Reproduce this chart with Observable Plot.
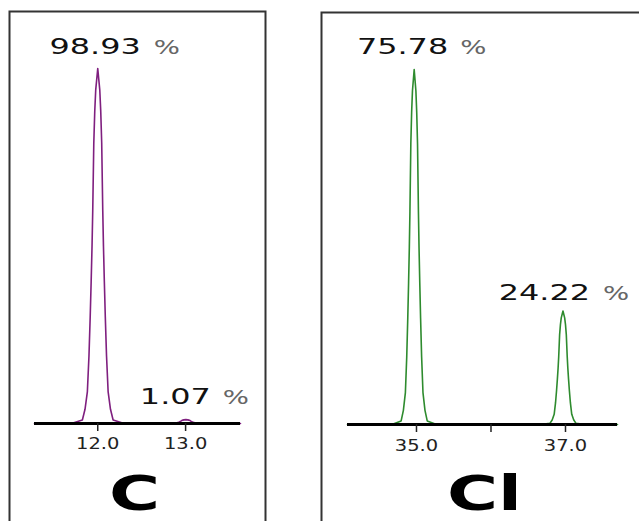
<!DOCTYPE html>
<html><head><meta charset="utf-8">
<script src="https://cdn.jsdelivr.net/npm/d3@7"></script>
<script src="https://cdn.jsdelivr.net/npm/@observablehq/plot@0.6"></script>
<style>
html,body{margin:0;padding:0;background:#fff;}
#wrap{position:relative;width:639px;height:521px;overflow:hidden;background:#fff;}
#wrap > div{position:absolute;top:0;height:521px;overflow:hidden;}
</style></head><body>
<div id="wrap"><div id="left" style="left:0;width:320px"></div><div id="right" style="left:320px;width:319px"></div></div>
<script>
// ---- data ----
const carbonMasses = [12.000, 13.003];
const carbonAbundance = [98.93, 1.07];
const carbonLabels = ["98.93", "1.07"];
const carbonTicks = [12.0, 13.0];
const carbonTickLabels = ["12.0", "13.0"];
const carbonDomain = [11.28, 13.625];

const chlorineMasses = [34.969, 36.966];
const chlorineAbundance = [75.78, 24.22];
const chlorineLabels = ["75.78", "24.22"];
const chlorineTicks = [35.0, 36.0, 37.0];
const chlorineTickLabels = ["35.0", "", "37.0"];
const chlorineDomain = [34.074, 37.698];

// peak profile: offset from peak centre (u) and relative height
const profileOffset = [-0.30, -0.175, -0.145, -0.118, -0.100, -0.086, -0.075, -0.065, -0.057, -0.045, -0.034, -0.023, 0, 0.023, 0.034, 0.045, 0.057, 0.065, 0.075, 0.086, 0.100, 0.118, 0.145, 0.175, 0.30];
const profileHeight = [0, 0.01, 0.04, 0.09, 0.19, 0.30, 0.40, 0.50, 0.60, 0.79, 0.88, 0.94, 1, 0.94, 0.88, 0.79, 0.60, 0.50, 0.40, 0.30, 0.19, 0.09, 0.04, 0.01, 0];

function spectrum(masses, abund, domain) {
  const pts = [{x: domain[0], y: 0}];
  masses.forEach((m, i) => profileOffset.forEach((o, j) => pts.push({x: m + o, y: abund[i] * profileHeight[j]})));
  pts.push({x: domain[1], y: 0});
  return pts;
}

function stretchText(svg) {
  svg.querySelectorAll("text").forEach(t => {
    const g = t.closest("g[aria-label]");
    const lab = g ? g.getAttribute("aria-label") : "";
    const k = lab.includes("tick") ? 1.3 : 1.45;
    let tr = t.getAttribute("transform") || "";
    if (t.hasAttribute("x")) {
      const x = parseFloat(t.getAttribute("x")) || 0;
      t.removeAttribute("x");
      tr = `translate(${x},0) ` + tr;
    }
    t.setAttribute("transform", tr + ` scale(${k},1)`);
  });
}

function labelMarks(masses, abund, labels, offs) {
  const marks = [];
  masses.forEach((m, i) => {
    const d = [{x: m, y: abund[i], t: labels[i]}];
    marks.push(Plot.text(d, {x: "x", y: "y", text: "t", textAnchor: "end", lineAnchor: "bottom",
      dx: offs[i][0], dy: offs[i][2], fontSize: 22, fill: "#111"}));
    marks.push(Plot.text(d, {x: "x", y: "y", text: () => "%", textAnchor: "start", lineAnchor: "bottom",
      dx: offs[i][1], dy: offs[i][2], fontSize: 19, fill: "#666"}));
  });
  return marks;
}

const font = "DejaVu Sans, Verdana, sans-serif";

// ---- Carbon panel ----
const left = Plot.plot({
  width: 320, height: 521,
  marginLeft: 34, marginRight: 80, marginTop: 68, marginBottom: 98,
  style: {fontFamily: font, background: "white"},
  x: {domain: carbonDomain},
  y: {domain: [0, 98.93], axis: null},
  marks: [
    Plot.frame({stroke: "#333", strokeWidth: 2, insetLeft: -25, insetRight: -25, insetTop: -57, insetBottom: -110}),
    Plot.line(spectrum(carbonMasses, carbonAbundance, carbonDomain), {x: "x", y: "y", stroke: "#7f1f7f", strokeWidth: 1.6}),
    Plot.ruleY([0], {stroke: "#000", strokeWidth: 3}),
    Plot.axisX({ticks: carbonTicks, tickFormat: d => carbonTickLabels[carbonTicks.indexOf(d)], tickSize: 8, tickPadding: 7,
      fontSize: 15, color: "#222", strokeWidth: 1.5, label: null}),
    ...labelMarks(carbonMasses, carbonAbundance, carbonLabels, [[43, 56, -15], [25, 37, -16]]),
    Plot.text(["C"], {frameAnchor: "bottom", text: d => d, dx: -3, dy: 86, lineAnchor: "bottom",
      fontSize: 48, fontWeight: "bold", fill: "#000"})
  ]
});
stretchText(left);
document.getElementById("left").appendChild(left);

// ---- Chlorine panel ----
const right = Plot.plot({
  width: 319, height: 521,
  marginLeft: 27, marginRight: 22, marginTop: 69, marginBottom: 97,
  style: {fontFamily: font, background: "white"},
  x: {domain: chlorineDomain},
  y: {domain: [0, 75.78], axis: null},
  marks: [
    Plot.frame({stroke: "#333", strokeWidth: 2, insetLeft: -26, insetRight: -30, insetTop: -57, insetBottom: -110}),
    Plot.line(spectrum(chlorineMasses, chlorineAbundance, chlorineDomain), {x: "x", y: "y", stroke: "#2e8b2e", strokeWidth: 1.6}),
    Plot.ruleY([0], {stroke: "#000", strokeWidth: 3}),
    Plot.axisX({ticks: chlorineTicks, tickFormat: d => chlorineTickLabels[chlorineTicks.indexOf(d)], tickSize: 8, tickPadding: 8,
      fontSize: 15, color: "#222", strokeWidth: 1.5, label: null}),
    ...labelMarks(chlorineMasses, chlorineAbundance, chlorineLabels, [[34, 46, -16], [27, 40, -11]]),
    Plot.text(["Cl"], {frameAnchor: "bottom", text: d => d, dx: 2, dy: 85, lineAnchor: "bottom",
      fontSize: 48, fontWeight: "bold", fill: "#000"})
  ]
});
stretchText(right);
document.getElementById("right").appendChild(right);
</script>
</body></html>
